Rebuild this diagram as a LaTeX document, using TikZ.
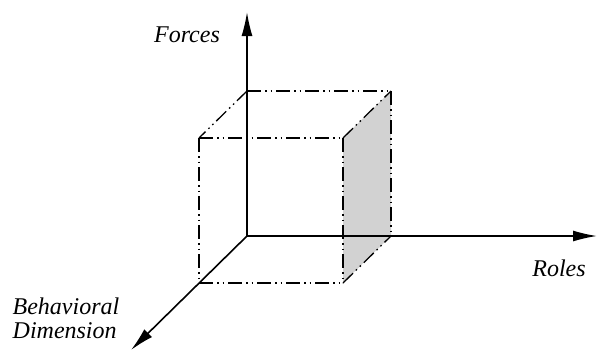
\documentclass[tikz,border=0pt]{standalone}
\usepackage{fontspec}
\setmainfont{Liberation Serif}
\usetikzlibrary{arrows.meta}

\begin{document}
\begin{tikzpicture}[
    x=1pt, y=-1pt,
    >={Latex[length=24pt,width=11pt]},
    axis/.style={
        ->,
        line width=1.6pt
    },
    edge/.style={
        line width=1.3pt,
        dash pattern=on 14pt off 4pt on 1.5pt off 4pt on 1.5pt off 4pt
    },
    axislabel/.style={
        font=\fontsize{24}{24}\selectfont\itshape,
        align=left
    }
]

\useasboundingbox (0,0) rectangle (598,351);

% ==================================================
% Corners
% ==================================================

\coordinate (O) at (247,236);
\coordinate (BTL) at (247,91);
\coordinate (BTR) at (391,91);
\coordinate (BBR) at (391,236);
\coordinate (FTL) at (199,138);
\coordinate (FTR) at (343,138);
\coordinate (FBL) at (199,283);
\coordinate (FBR) at (343,283);

\coordinate (ForcesEnd) at (247,12);
\coordinate (RolesEnd) at (597,236);
\coordinate (BehEnd) at (131,350);

% ==================================================
% Shaded side
% ==================================================

\fill[gray!35] (FTR) -- (BTR) -- (BBR) -- (FBR) -- cycle;

% ==================================================
% Cube edges
% ==================================================

\draw[edge] (BTL) -- (BTR);
\draw[edge] (BTL) -- (FTL);
\draw[edge] (FTL) -- (FTR);
\draw[edge] (FTR) -- (BTR);
\draw[edge] (FTL) -- (FBL);
\draw[edge] (FTR) -- (FBR);
\draw[edge] (BTR) -- (BBR);
\draw[edge] (FBL) -- (FBR);
\draw[edge] (FBR) -- (BBR);

% ==================================================
% Axes
% ==================================================

\draw[axis] (O) -- (ForcesEnd);
\draw[axis] (O) -- (RolesEnd);
\draw[axis] (O) -- (BehEnd);

\node[axislabel] (forces) at (187,35) {Forces};
\node[axislabel] (roles) at (559,268) {Roles};
\node[axislabel] (beh) at (66,318) {Behavioral\\Dimension};

\end{tikzpicture}
\end{document}
